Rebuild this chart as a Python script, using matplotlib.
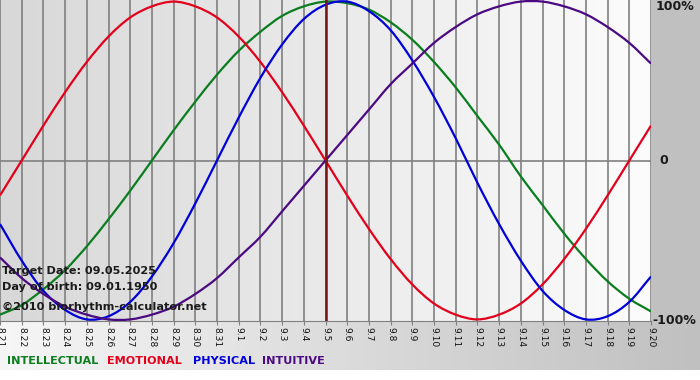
import numpy as np
import matplotlib
matplotlib.use("Agg")
import matplotlib.pyplot as plt
from matplotlib.colors import LinearSegmentedColormap
from matplotlib.path import Path
from matplotlib.patches import PathPatch

# day labels (month.day), 8.21 .. 9.20
days = ["8.21", "8.22", "8.23", "8.24", "8.25", "8.26", "8.27", "8.28", "8.29", "8.30", "8.31",
        "9.1", "9.2", "9.3", "9.4", "9.5", "9.6", "9.7", "9.8", "9.9", "9.10",
        "9.11", "9.12", "9.13", "9.14", "9.15", "9.16", "9.17", "9.18", "9.19", "9.20"]
target_day = "9.5"

# daily values (-1 .. 1)
intellectual = [-0.97, -0.91, -0.81, -0.69, -0.54, -0.37, -0.19, 0.00, 0.19, 0.37, 0.54,
                0.69, 0.81, 0.91, 0.97, 1.00, 0.99, 0.95, 0.87, 0.76, 0.62,
                0.46, 0.28, 0.10, -0.10, -0.28, -0.46, -0.62, -0.76, -0.87, -0.95]
emotional = [-0.22, 0.00, 0.22, 0.43, 0.62, 0.78, 0.90, 0.97, 1.00, 0.97, 0.90,
             0.78, 0.62, 0.43, 0.22, 0.00, -0.22, -0.43, -0.62, -0.78, -0.90,
             -0.97, -1.00, -0.97, -0.90, -0.78, -0.62, -0.43, -0.22, 0.00, 0.22]
physical = [-0.40, -0.63, -0.82, -0.94, -1.00, -0.98, -0.89, -0.73, -0.52, -0.27, 0.00,
            0.27, 0.52, 0.73, 0.89, 0.98, 1.00, 0.94, 0.82, 0.63, 0.40,
            0.14, -0.14, -0.40, -0.63, -0.82, -0.94, -1.00, -0.98, -0.89, -0.73]
intuitive = [-0.61, -0.74, -0.84, -0.92, -0.97, -1.00, -1.00, -0.97, -0.92, -0.84, -0.74,
             -0.61, -0.48, -0.32, -0.16, 0.00, 0.16, 0.32, 0.48, 0.61, 0.74,
             0.84, 0.92, 0.97, 1.00, 1.00, 0.97, 0.92, 0.84, 0.74, 0.61]

names = ["INTELLECTUAL", "EMOTIONAL", "PHYSICAL", "INTUITIVE"]
colors = ["#0a7d1e", "#e3001b", "#0000d8", "#4b0a82"]
series = [intellectual, emotional, physical, intuitive]


def smooth_path(xs, ys):
    # catmull-rom through the points, drawn as cubic bezier segments
    p = np.column_stack([xs, ys]).astype(float)
    ext = np.vstack([2 * p[0] - p[1], p, 2 * p[-1] - p[-2]])
    verts = [p[0]]
    codes = [Path.MOVETO]
    for i in range(1, len(ext) - 2):
        p0, p1, p2, p3 = ext[i - 1], ext[i], ext[i + 1], ext[i + 2]
        verts += [p1 + (p2 - p0) / 6, p2 - (p3 - p1) / 6, p2]
        codes += [Path.CURVE4] * 3
    return Path(verts, codes)


W, H = 700, 380
fig = plt.figure(figsize=(7, 3.8), dpi=100)
fig.patch.set_facecolor("white")

grad = np.linspace(0, 1, 256).reshape(1, -1)

# bottom band (tick labels + legend)
bg = fig.add_axes([0, 10 / H, 1, 49 / H])
bg.axis("off")
bg.imshow(grad, aspect="auto", extent=[0, 1, 0, 1],
          cmap=LinearSegmentedColormap.from_list("b", ["#f6f6f6", "#c0c0c0"]))

# right band
rb = fig.add_axes([651 / W, 59 / H, 49 / W, 321 / H])
rb.set_facecolor("#c0c0c0")
rb.set_xticks([]); rb.set_yticks([])
for s in rb.spines.values():
    s.set_visible(False)

ax = fig.add_axes([0, 59 / H, 651 / W, 321 / H])
x = np.arange(len(days))
ax.imshow(grad, aspect="auto", extent=[0, len(days) - 1, -1.01, 1.01], zorder=0,
          cmap=LinearSegmentedColormap.from_list("p", ["#d8d8d8", "#fcfcfc"]))
ax.set_xlim(0, len(days) - 1)
ax.set_ylim(-1.01, 1.01)

for i in x:
    ax.axvline(i, color="#808080", lw=1.2, zorder=1)
ax.axhline(0, color="#808080", lw=1.2, zorder=1)

for vals, c in zip(series, colors):
    ax.add_patch(PathPatch(smooth_path(x, vals), facecolor="none", edgecolor=c,
                           lw=1.6, zorder=3))

ax.axvline(days.index(target_day), color="#7a1515", lw=1.8, zorder=4)

for k in ["top", "left", "right"]:
    ax.spines[k].set_visible(False)
ax.spines["bottom"].set_color("#808080")
ax.set_xticks(x)
ax.set_xticklabels(days, rotation=270, fontsize=6.6, color="#111111")
ax.tick_params(axis="x", length=3, color="#808080", pad=1)
ax.set_yticks([])

lab = dict(fontsize=9, fontweight="bold", color="#1a1a1a", va="center", ha="left")
fig.text(656 / W, 1 - 7 / H, "100%", **lab)
fig.text(659 / W, 1 - 161 / H, "0", **lab)
fig.text(652 / W, 1 - 321 / H, "-100%", **lab)

info = dict(fontsize=8.1, fontweight="bold", color="#1a1a1a", va="center", ha="left", zorder=5)
fig.text(2 / W, 1 - 271 / H, "Target Date: 09.05.2025", **info)
fig.text(2 / W, 1 - 287 / H, "Day of birth: 09.01.1950", **info)
fig.text(2 / W, 1 - 307 / H, "\u00a92010 biorhythm-calculator.net", **info)

lx = [7, 107, 193, 262]
for n, c, px in zip(names, colors, lx):
    fig.text(px / W, 1 - 361 / H, n, fontsize=8.1, fontweight="bold", color=c,
             va="center", ha="left")

fig.savefig("out.png", dpi=100)
